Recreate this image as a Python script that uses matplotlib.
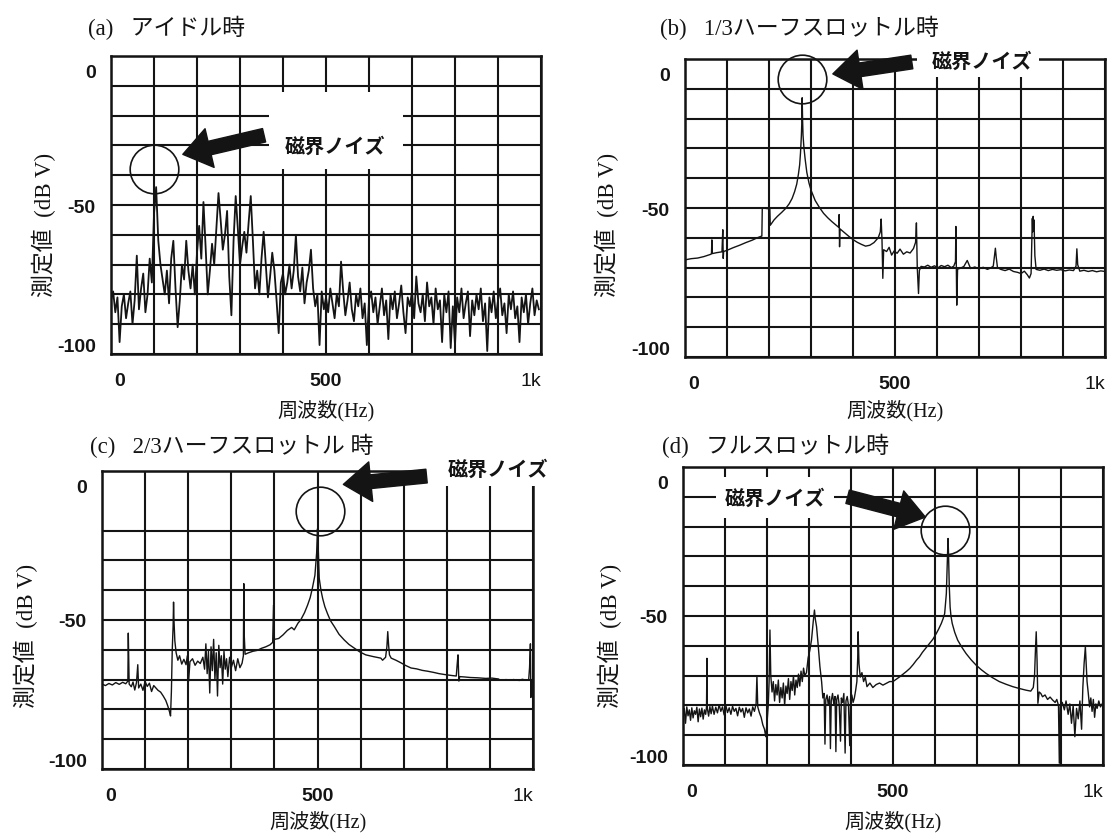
import numpy as np
import matplotlib
matplotlib.use("Agg")
import matplotlib.pyplot as plt
from matplotlib.patches import Rectangle
from matplotlib.transforms import ScaledTranslation

plt.rcParams['font.family'] = ['Liberation Serif', 'Noto Sans CJK JP']

# ---------------- data ----------------
titles = ["(a)   アイドル時", "(b)   1/3ハーフスロットル時",
          "(c)   2/3ハーフスロットル 時", "(d)   フルスロットル時"]
x_label = "周波数(Hz)"
y_label = "測定値  (dB V)"
noise_label = "磁界ノイズ"
x_ticks = [0, 500, 1000]
x_tick_labels = ["0", "500", "1k"]
y_ticks = [0, -50, -100]
y_tick_labels = ["0", "-50", "-100"]

# (a) idle: level per 5 Hz bin
freq_a = np.arange(0, 1000, 5)
level_a = [
    -82, -79, -86, -81, -96, -84, -80, -88, -83, -79, -90, -82, -67, -85, -78, -73, -86, -80, -68, -76,
    -53, -44, -62, -70, -75, -80, -72, -83, -68, -62, -78, -91, -82, -70, -75, -62, -72, -78, -70, -80,
    -66, -57, -68, -49, -64, -80, -72, -63, -70, -58, -46, -55, -65, -60, -52, -74, -87, -62, -47, -58,
    -70, -64, -59, -66, -56, -47, -62, -78, -72, -80, -68, -59, -70, -81, -74, -66, -72, -82, -93, -76,
    -73, -80, -76, -70, -78, -72, -60, -74, -79, -71, -83, -76, -72, -65, -78, -84, -80, -97, -79, -85,
    -81, -86, -78, -83, -88, -80, -84, -69, -79, -87, -82, -76, -85, -89, -80, -84, -78, -88, -83, -97,
    -82, -79, -86, -81, -90, -84, -78, -87, -82, -95, -80, -85, -79, -88, -83, -77, -86, -93, -81, -84,
    -79, -88, -74, -83, -86, -80, -89, -76, -84, -81, -90, -78, -85, -82, -96, -80, -86, -79, -98, -84,
    -97, -81, -86, -78, -88, -83, -79, -94, -82, -87, -80, -85, -78, -89, -83, -99, -81, -86, -79, -88,
    -82, -78, -87, -83, -93, -80, -85, -79, -88, -84, -96, -81, -86, -80, -90, -83, -78, -87, -82, -85,
]

# (b) 1/3 half throttle: (Hz, dB V)
trace_b = [
    (0, -67.4), (15, -67.0), (30, -66.8), (45, -66.3), (60, -65.6), (63, -65.4), (64, -60.7), (65, -65.3),
    (75, -65.0), (88, -64.7), (90, -57.3), (91, -66.9), (92, -64.6), (100, -64.2), (115, -63.3), (130, -62.5),
    (145, -61.6), (160, -60.8), (172, -60.0), (183, -59.4), (184, -50.0), (202, -50.3), (203, -55.8), (212, -54.0),
    (220, -52.8), (230, -51.5), (240, -50.1), (248, -48.6), (255, -46.8), (261, -44.5), (266, -42.0), (270, -38.7),
    (273, -35.5), (275, -31.5), (277, -26.0), (278, -22.0), (279, -13.0), (280, -20.5), (281, -25.5), (283, -29.5),
    (286, -33.5), (290, -38.0), (295, -41.5), (300, -44.0), (310, -47.5), (320, -49.8), (330, -51.8), (340, -53.3),
    (350, -54.6), (360, -55.8), (366, -56.5), (367, -52.2), (368, -63.0), (369, -57.0), (380, -58.3), (390, -59.5),
    (400, -60.6), (410, -61.5), (420, -62.2), (430, -62.8), (440, -62.5), (450, -61.6), (460, -60.0), (465, -58.0),
    (467, -53.7), (469, -60.5), (471, -73.6), (473, -64.0), (480, -64.6), (486, -63.2), (492, -65.8), (498, -64.4),
    (505, -65.2), (512, -63.8), (520, -65.5), (528, -64.7), (536, -65.1), (544, -63.6), (549, -61.5), (551, -55.0),
    (553, -70.0), (556, -78.7), (558, -71.0), (562, -69.6), (570, -69.8), (578, -69.2), (586, -69.9), (594, -69.4),
    (602, -70.1), (610, -69.3), (618, -69.7), (626, -69.2), (634, -70.0), (640, -69.5), (644, -68.0), (645, -56.2),
    (646, -70.0), (647, -82.6), (649, -70.5), (656, -70.2), (664, -69.6), (672, -67.6), (680, -70.3), (690, -69.8),
    (700, -70.4), (710, -69.9), (720, -70.6), (728, -70.1), (734, -69.5), (737, -66.0), (739, -63.5), (741, -66.5),
    (744, -70.0), (752, -70.6), (762, -71.0), (772, -70.5), (782, -71.3), (792, -71.6), (800, -72.0), (808, -71.2),
    (815, -72.4), (820, -73.5), (824, -72.0), (826, -60.0), (827, -53.5), (828, -58.0), (829, -52.8), (830, -57.0),
    (831, -54.0), (833, -66.0), (836, -70.6), (845, -70.9), (855, -70.5), (865, -71.0), (875, -70.6), (885, -70.9),
    (895, -70.7), (905, -71.1), (915, -70.8), (925, -71.0), (931, -69.5), (933, -63.7), (935, -69.0), (940, -71.2),
    (950, -70.9), (960, -71.3), (970, -71.0), (980, -71.4), (990, -71.1), (1000, -71.3),
]

# (c) 2/3 half throttle: (Hz, dB V)
trace_c = [
    (0, -71.5), (8, -72.0), (16, -71.3), (24, -71.8), (32, -71.0), (40, -71.6), (48, -70.9), (55, -71.4),
    (60, -70.5), (61, -54.4), (62, -62.0), (63, -71.5), (68, -72.4), (72, -70.8), (76, -73.5), (80, -71.0),
    (83, -65.0), (85, -72.8), (90, -71.5), (95, -73.6), (100, -70.6), (105, -72.3), (110, -71.2), (115, -74.0),
    (120, -72.0), (125, -72.8), (130, -73.6), (136, -74.2), (142, -75.5), (148, -77.0), (153, -79.0), (157, -81.0),
    (159, -82.2), (161, -74.0), (163, -60.0), (165, -52.0), (166, -44.0), (167, -50.0), (169, -57.0), (172, -61.0),
    (176, -63.5), (180, -62.0), (185, -64.8), (190, -63.2), (195, -65.0), (198, -62.0), (201, -70.5), (204, -64.0),
    (210, -63.0), (216, -65.2), (222, -63.8), (228, -64.6), (234, -62.5), (238, -66.5), (241, -58.0), (244, -68.0),
    (247, -60.5), (250, -74.5), (253, -59.0), (256, -67.0), (259, -56.5), (262, -70.0), (265, -61.0), (268, -75.5),
    (271, -58.5), (274, -66.0), (277, -62.0), (280, -71.5), (283, -60.5), (286, -66.5), (289, -63.0), (292, -69.0),
    (296, -62.5), (300, -66.0), (305, -63.5), (310, -67.0), (315, -63.0), (320, -66.0), (325, -64.5), (328, -62.0),
    (329, -37.8), (330, -55.0), (332, -61.5), (340, -61.0), (350, -60.5), (360, -60.2), (370, -59.5), (380, -59.0),
    (390, -58.3), (396, -57.5), (398, -45.0), (400, -56.5), (410, -56.2), (420, -55.0), (430, -53.5), (440, -52.5),
    (446, -53.3), (455, -51.0), (461, -50.0), (470, -47.5), (477, -45.0), (483, -42.5), (488, -39.4), (492, -36.5),
    (494, -35.0), (496, -31.0), (498, -27.5), (500, -19.4), (501, -24.0), (502, -27.2), (504, -36.0), (508, -40.0),
    (512, -42.8), (517, -45.5), (523, -47.8), (530, -50.2), (539, -52.2), (550, -54.8), (562, -56.7), (573, -58.2),
    (585, -59.4), (598, -60.7), (612, -61.7), (630, -62.3), (647, -62.8), (651, -63.5), (658, -62.5), (661, -59.0),
    (663, -53.9), (665, -58.5), (667, -61.7), (671, -62.8), (682, -63.5), (694, -64.4), (705, -65.3), (717, -66.1),
    (730, -66.4), (743, -66.9), (756, -67.2), (770, -67.6), (782, -68.0), (795, -68.3), (810, -68.6), (822, -68.8),
    (824, -65.0), (826, -61.7), (828, -70.5), (830, -69.0), (840, -69.1), (855, -69.3), (872, -69.4), (890, -69.6),
    (905, -69.5), (920, -69.8), (930, np.nan), (938, -70.0), (944, -70.2), (950, np.nan), (955, -70.0), (962, -70.1),
    (968, -70.3), (975, -69.9), (985, -70.2), (990, -70.0), (992, -66.0), (994, -58.0), (995, -76.0), (997, -70.0),
    (1000, -70.2),
]

# (d) full throttle: (Hz, dB V)
trace_d = [
    (0, -84.0), (3, -81.0), (6, -86.0), (9, -80.5), (12, -83.5), (15, -81.5), (18, -85.0), (21, -80.8),
    (24, -84.2), (27, -81.8), (30, -83.0), (33, -80.6), (36, -85.5), (39, -81.2), (42, -83.8), (45, -80.9),
    (48, -84.6), (51, -81.5), (54, -83.0), (56, -80.5), (57, -64.2), (58, -81.0), (61, -83.6), (64, -80.4),
    (67, -82.8), (70, -80.2), (74, -83.0), (78, -80.6), (82, -82.5), (86, -79.8), (90, -82.0), (94, -80.5),
    (98, -83.2), (102, -80.0), (106, -82.4), (110, -80.8), (114, -83.0), (118, -80.3), (122, -82.0), (126, -81.0),
    (130, -83.5), (134, -80.6), (138, -82.2), (142, -81.0), (146, -84.0), (150, -80.8), (154, -82.5), (158, -81.2),
    (162, -83.6), (166, -80.5), (170, -82.0), (174, -79.5), (176, -70.0), (178, -80.5), (182, -82.5), (186, -84.0),
    (190, -86.5), (194, -88.0), (197, -90.5), (200, -86.0), (203, -80.0), (205, -72.0), (207, -54.7), (209, -70.0),
    (212, -75.5), (215, -72.0), (218, -78.5), (221, -73.0), (224, -76.5), (227, -71.5), (230, -79.0), (233, -74.0),
    (236, -77.5), (239, -72.5), (242, -80.0), (245, -73.5), (248, -76.0), (251, -71.0), (254, -78.0), (257, -72.0),
    (260, -75.0), (263, -70.0), (266, -76.5), (269, -71.5), (272, -74.0), (275, -69.5), (278, -73.5), (281, -68.5),
    (284, -72.0), (287, -67.5), (290, -70.0), (294, -69.0), (298, -64.0), (302, -61.5), (306, -58.0), (310, -52.0),
    (313, -48.0), (315, -51.0), (318, -53.6), (322, -60.0), (326, -67.0), (330, -72.0), (333, -77.5), (336, -76.0),
    (338, -93.0), (340, -78.0), (343, -76.5), (346, -80.0), (349, -77.0), (351, -94.5), (353, -78.5), (356, -76.0),
    (359, -79.5), (362, -77.0), (364, -95.5), (366, -78.0), (369, -76.5), (372, -80.0), (375, -92.0), (377, -77.5),
    (380, -79.0), (383, -76.0), (386, -96.0), (388, -78.5), (391, -77.0), (394, -80.0), (397, -93.5), (399, -78.0),
    (402, -76.5), (405, -79.0), (408, -77.5), (411, -75.0), (414, -72.0), (416, -64.0), (417, -55.3), (419, -66.0),
    (422, -70.5), (426, -69.0), (430, -72.0), (434, -70.5), (438, -73.7), (445, -72.5), (452, -74.0), (460, -73.0),
    (468, -72.5), (476, -73.2), (484, -72.6), (492, -72.0), (500, -72.0), (508, -71.2), (516, -70.4), (524, -69.5),
    (532, -68.6), (540, -67.6), (548, -66.3), (556, -64.8), (563, -63.7), (570, -62.2), (578, -60.8), (587, -59.2),
    (595, -57.8), (603, -55.9), (609, -54.3), (615, -52.5), (619, -51.0), (623, -49.2), (625, -46.0), (627, -42.5),
    (629, -33.5), (631, -24.0), (632, -28.0), (633, -34.5), (634, -40.0), (636, -47.0), (638, -50.0), (641, -52.5),
    (647, -55.5), (654, -58.1), (664, -60.5), (674, -62.6), (686, -64.7), (698, -66.5), (710, -68.0), (722, -69.3),
    (737, -70.7), (753, -72.0), (769, -72.9), (785, -73.7), (800, -74.3), (817, -74.9), (828, -75.2), (834, -74.0),
    (837, -70.0), (839, -62.0), (841, -55.3), (843, -65.0), (845, -79.3), (848, -75.5), (852, -76.0), (856, -77.1),
    (862, -76.5), (868, -78.0), (874, -77.2), (880, -78.2), (886, -79.0), (890, -78.0), (894, -80.0), (896, -99.4),
    (898, -80.5), (903, -79.0), (908, -81.5), (912, -78.5), (917, -83.0), (921, -79.5), (925, -86.0), (929, -80.0),
    (933, -90.5), (937, -81.0), (941, -84.5), (945, -78.5), (949, -88.0), (952, -74.0), (955, -66.0), (958, -60.3),
    (960, -66.5), (962, -72.0), (965, -76.0), (968, -80.5), (971, -77.5), (974, -82.0), (977, -78.0), (980, -84.0),
    (983, -79.5), (986, -81.0), (990, -78.5), (994, -80.5), (1000, -79.0),
]

# ---------------- layout / annotation settings ----------------
W, H = 1112, 837
panels = [
    dict(box=(111, 57, 541, 355), title=(88, 28), ylab=(-0.128, 0.435), xlab=-0.151,
         circle=(100, -38), tail=(356, -26.6), tip=(167, -33), text=(521, -30),
         mask=(368, -38, 680, -12), skip_y=[]),
    dict(box=(685, 60, 1105, 358), title=(660, 28), ylab=(-0.157, 0.446), xlab=-0.141,
         circle=(279, -6.8), tail=(540, -1.0), tip=(352, -5.0), text=(707, -0.5),
         mask=(552, -6, 842, 4), skip_y=[]),
    dict(box=(102, 472, 533, 770), title=(90, 446), ylab=(-0.148, 0.45), xlab=-0.138,
         circle=(506, -13.3), tail=(753, -1.7), tip=(560, -4.5), text=(920, 1.0),
         mask=(745, -5, 1045, 5), skip_y=[-10]),
    dict(box=(683, 468, 1103, 766), title=(662, 446), ylab=(-0.145, 0.436), xlab=-0.151,
         circle=(624, -21), tail=(392, -10), tip=(577, -16.8), text=(220, -10),
         mask=(78, -17, 360, -3.5), skip_y=[]),
]

fig = plt.figure(figsize=(W / 100, H / 100), dpi=100)
ink = '#141414'


def shift(artist, dx_px, dy_px):
    artist.set_transform(artist.get_transform() +
                         ScaledTranslation(dx_px / 100, dy_px / 100, fig.dpi_scale_trans))


traces = [
    (freq_a, np.array(level_a, dtype=float)),
    tuple(np.array(trace_b, dtype=float).T),
    tuple(np.array(trace_c, dtype=float).T),
    tuple(np.array(trace_d, dtype=float).T),
]

for i, p in enumerate(panels):
    l, t, r, b = p['box']
    ax = fig.add_axes([l / W, 1 - b / H, (r - l) / W, (b - t) / H])
    ax.set_xlim(0, 1000)
    ax.set_ylim(-100, 0)
    ax.set_xticks(x_ticks)
    ax.set_xticklabels(x_tick_labels)
    ax.set_yticks(y_ticks)
    ax.set_yticklabels(y_tick_labels)
    ax.set_xticks(np.arange(100, 1000, 100), minor=True)
    ax.set_yticks([v for v in range(-90, 0, 10) if v not in p['skip_y']], minor=True)
    ax.set_axisbelow(True)
    ax.grid(which='both', color=ink, lw=1.5)
    ax.tick_params(which='both', length=0)
    ax.tick_params(axis='x', pad=13, labelsize=14)
    ax.tick_params(axis='y', pad=11, labelsize=14)
    for lab in ax.get_xticklabels() + ax.get_yticklabels():
        lab.set_fontfamily('Liberation Sans')
        lab.set_fontweight('bold')
        lab.set_color(ink)
    xl = ax.get_xticklabels()
    xl[0].set_ha('left')
    xl[2].set_ha('right')
    xl[2].set_fontweight('normal')
    shift(xl[0], 3, 0)
    yl = ax.get_yticklabels()
    yl[0].set_va('top')
    shift(yl[0], 0, -8)
    yl[2].set_va('center')
    shift(yl[2], 0, 7)
    for s in ax.spines.values():
        s.set_linewidth(1.8)
        s.set_color(ink)

    f, v = traces[i]
    ax.plot(f, v, color=ink, lw=1.3 if i == 0 else 1.0, zorder=2)

    ax.set_xlabel(x_label, fontsize=14.5, color=ink)
    ax.xaxis.set_label_coords(0.5, p['xlab'])
    ax.set_ylabel(y_label, fontsize=16.5, color=ink)
    ax.yaxis.set_label_coords(*p['ylab'])

    mx0, my0, mx1, my1 = p['mask']
    ax.add_patch(Rectangle((mx0, my0), mx1 - mx0, my1 - my0, facecolor='white',
                           edgecolor='none', zorder=3, clip_on=False))
    ax.plot([p['circle'][0]], [p['circle'][1]], marker='o', ms=35, mfc='none',
            mec=ink, mew=1.2, zorder=4, clip_on=False)
    ax.annotate('', xy=p['tip'], xytext=p['tail'], annotation_clip=False, zorder=4,
                arrowprops=dict(arrowstyle='simple,head_length=0.9,head_width=1.3,tail_width=0.45',
                                fc=ink, ec=ink, mutation_scale=22, shrinkA=0, shrinkB=0))
    ax.text(p['text'][0], p['text'][1], noise_label, ha='center', va='center',
            fontsize=14.5, fontweight='bold', fontfamily='Noto Sans CJK JP',
            color=ink, zorder=5, clip_on=False)

    fig.text(p['title'][0] / W, 1 - p['title'][1] / H, titles[i], ha='left',
             va='center', fontsize=16.5, color=ink)

fig.savefig('out.png', dpi=100, facecolor='white')
